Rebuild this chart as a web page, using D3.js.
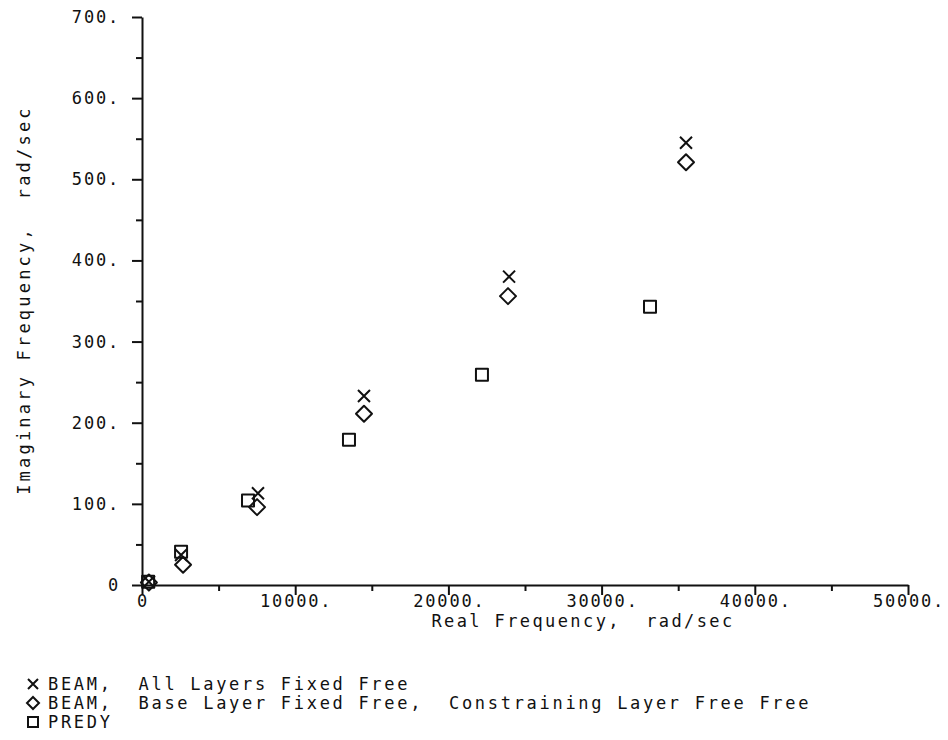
<!DOCTYPE html>
<html>
<head>
<meta charset="utf-8">
<script src="https://cdn.jsdelivr.net/npm/d3@7"></script>
<style>
  html, body { margin: 0; padding: 0; background: #fff; }
  svg { display: block; }
  text { font-family: "DejaVu Sans Mono", monospace; fill: #111; white-space: pre; }
</style>
</head>
<body>
<svg id="chart" width="948" height="740"></svg>
<script>
// Real / imaginary frequency pairs (rad/sec) for each model
const beamAllFixedFree = [
  [450, 4], [2550, 37], [7570, 113], [14490, 233], [23960, 380], [35510, 545]
];
const beamBaseFixedFree = [
  [450, 3], [2680, 25], [7510, 96], [14490, 211], [23890, 356], [35510, 521]
];
const predy = [
  [400, 4], [2550, 41], [6920, 104], [13510, 179], [22190, 259], [33160, 343]
];

const xMajorTicks = [0, 10000, 20000, 30000, 40000, 50000];
const xMinorTicks = [5000, 15000, 25000, 35000, 45000];
const yMajorTicks = [0, 100, 200, 300, 400, 500, 600, 700];
const yMinorTicks = [50, 150, 250, 350, 450, 550, 650];

const xTitle = "Real Frequency,  rad/sec";
const yTitle = "Imaginary Frequency,  rad/sec";
const legendLabels = [
  "BEAM,  All Layers Fixed Free",
  "BEAM,  Base Layer Fixed Free,  Constraining Layer Free Free",
  "PREDY"
];

const svg = d3.select("#chart");
const x = d3.scaleLinear().domain([0, 50000]).range([142, 908]);
const y = d3.scaleLinear().domain([0, 700]).range([585, 17]);

const fmt = v => v === 0 ? "0" : v + ".";
const FONT = 17;

// Axes: long major ticks, short minor ticks, both pointing outward
svg.append("g").attr("transform", `translate(0,${y(0)})`)
  .call(d3.axisBottom(x).tickValues(xMajorTicks).tickSize(10).tickSizeOuter(0).tickFormat(""));
svg.append("g").attr("transform", `translate(0,${y(0)})`)
  .call(d3.axisBottom(x).tickValues(xMinorTicks).tickSize(6).tickSizeOuter(0).tickFormat(""))
  .select(".domain").remove();
svg.append("g").attr("transform", `translate(${x(0)},0)`)
  .call(d3.axisLeft(y).tickValues(yMajorTicks).tickSize(10).tickSizeOuter(0).tickFormat(""));
svg.append("g").attr("transform", `translate(${x(0)},0)`)
  .call(d3.axisLeft(y).tickValues(yMinorTicks).tickSize(6).tickSizeOuter(0).tickFormat(""))
  .select(".domain").remove();
svg.selectAll(".domain, .tick line").attr("stroke", "#111").attr("stroke-width", 2);

// Tick labels
svg.append("g").selectAll("text").data(xMajorTicks).join("text")
  .attr("x", d => x(d) + 1)
  .attr("y", 607)
  .attr("text-anchor", "middle")
  .attr("font-size", FONT)
  .attr("letter-spacing", 1.8)
  .text(fmt);
svg.append("g").selectAll("text").data(yMajorTicks).join("text")
  .attr("x", 120)
  .attr("y", d => y(d) + 6)
  .attr("text-anchor", "end")
  .attr("font-size", FONT)
  .attr("letter-spacing", 1.8)
  .text(fmt);

// Axis titles
svg.append("text")
  .attr("x", 583).attr("y", 627)
  .attr("text-anchor", "middle")
  .attr("font-size", FONT).attr("letter-spacing", 2.4)
  .text(xTitle);
svg.append("text")
  .attr("transform", "translate(30,300) rotate(-90)")
  .attr("text-anchor", "middle")
  .attr("font-size", FONT).attr("letter-spacing", 3.2)
  .text(yTitle);

// Marker shapes
const markers = {
  cross: s => `M${-s},${-s}L${s},${s}M${-s},${s}L${s},${-s}`,
  diamond: s => `M0,${-s}L${s},0L0,${s}L${-s},0Z`,
  square: s => `M${-s},${-s}H${s}V${s}H${-s}Z`
};
const series = [
  { data: beamAllFixedFree, shape: "cross", size: 6 },
  { data: beamBaseFixedFree, shape: "diamond", size: 8 },
  { data: predy, shape: "square", size: 6 }
];
series.forEach(s => {
  svg.append("g").selectAll("path").data(s.data).join("path")
    .attr("transform", d => `translate(${x(d[0])},${y(d[1])})`)
    .attr("d", markers[s.shape](s.size))
    .attr("fill", "none")
    .attr("stroke", "#111")
    .attr("stroke-width", 2)
    .attr("stroke-linejoin", "round");
});

// Legend
const legendSizes = [5, 6, 5];
const legend = svg.append("g");
series.forEach((s, i) => {
  const ly = 684 + i * 19;
  legend.append("path")
    .attr("transform", `translate(33,${ly})`)
    .attr("d", markers[s.shape](legendSizes[i]))
    .attr("fill", "none").attr("stroke", "#111").attr("stroke-width", 2);
  legend.append("text")
    .attr("x", 48).attr("y", ly + 6)
    .attr("font-size", FONT).attr("letter-spacing", 2.7)
    .text(legendLabels[i]);
});
</script>
</body>
</html>
